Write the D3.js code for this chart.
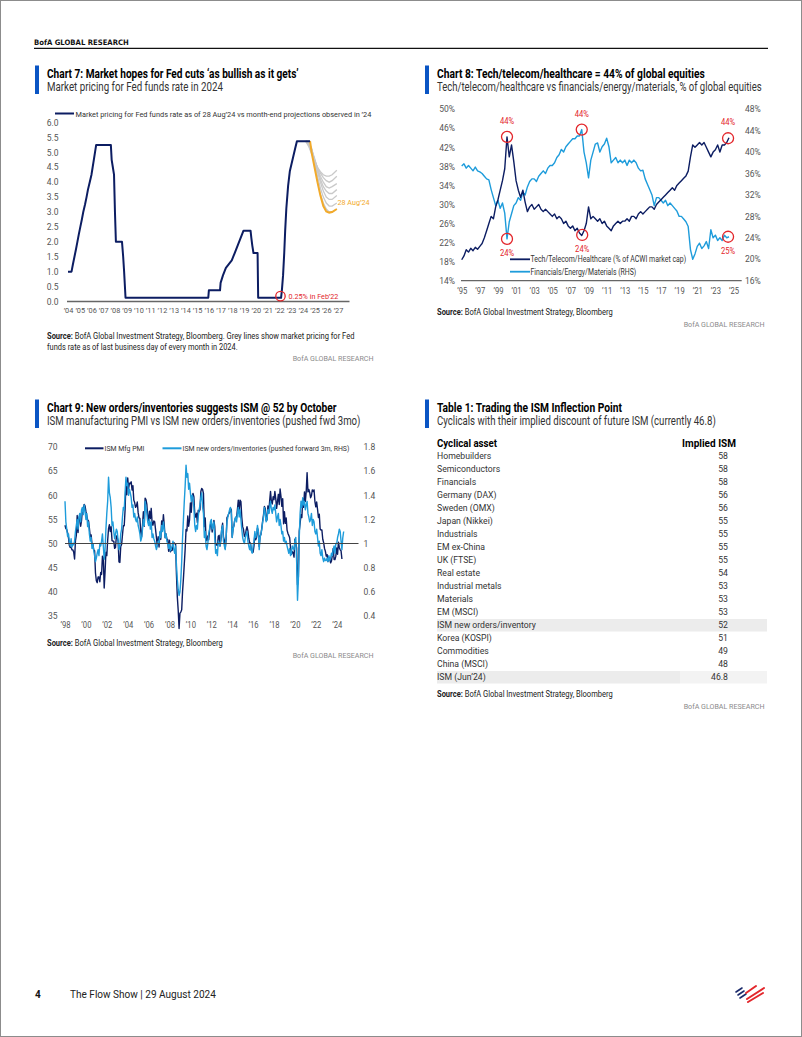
<!DOCTYPE html>
<html><head><meta charset="utf-8">
<script src="https://cdn.jsdelivr.net/npm/d3@7"></script>
<style>
html,body{margin:0;padding:0;background:#fff;}
svg{display:block;}
</style></head><body>
<svg id="page" width="802" height="1037"></svg>
<script>
// ---------------- DATA ----------------
// Chart 7: Fed funds (mid of target range), decimal years
const fedYears = [2004.0,2004.3,2004.42,2004.55,2004.68,2004.8,2004.92,2005.05,2005.18,2005.3,2005.45,2005.58,2005.7,2005.85,2006.0,2006.1,2006.2,2006.3,2006.4,2007.65,2007.72,2007.82,2007.92,2008.0,2008.08,2008.6,2008.7,2008.78,2008.9,2015.95,2016.0,2016.95,2017.0,2017.2,2017.45,2017.95,2018.2,2018.45,2018.7,2018.95,2019.55,2019.62,2019.7,2019.8,2020.15,2020.2,2022.15,2022.22,2022.32,2022.42,2022.5,2022.6,2022.75,2022.9,2023.05,2023.2,2023.35,2023.5,2024.62];
const fedRates = [1.0,1.0,1.25,1.5,1.75,2.0,2.25,2.5,2.75,3.0,3.25,3.5,3.75,4.0,4.25,4.5,4.75,5.0,5.25,5.25,4.75,4.5,4.25,3.0,2.0,2.0,1.5,1.0,0.125,0.125,0.375,0.375,0.625,0.875,1.125,1.375,1.625,1.875,2.125,2.375,2.375,2.125,1.875,1.625,1.625,0.125,0.125,0.375,0.875,1.625,2.375,3.125,3.875,4.375,4.625,4.875,5.125,5.375,5.375];
// Projections (28 Aug'24, orange)
const augYears = [2024.62,2024.75,2025.0,2025.25,2025.5,2025.75,2026.0,2026.25,2026.5,2026.9];
const augRates = [5.375,5.0,4.5,4.0,3.55,3.2,3.02,2.98,3.0,3.1];
// Month-end projections Jan-Jul '24 (grey)
const greyYears = [2024.25,2024.5,2024.75,2025.0,2025.25,2025.5,2025.75,2026.0,2026.25,2026.5,2026.9];
const projJan = [5.375,5.2,4.95,4.7,4.5,4.35,4.25,4.2,4.2,4.25,4.4];
const projFeb = [5.375,5.25,5.0,4.75,4.5,4.3,4.15,4.05,4.0,4.05,4.2];
const projMar = [5.375,5.3,5.05,4.75,4.45,4.2,4.0,3.85,3.8,3.85,3.95];
const projApr = [5.375,5.3,5.1,4.8,4.45,4.1,3.85,3.7,3.62,3.62,3.75];
const projMay = [5.375,5.35,5.1,4.75,4.35,4.0,3.7,3.5,3.42,3.42,3.55];
const projJun = [5.375,5.35,5.15,4.7,4.2,3.8,3.5,3.3,3.2,3.2,3.3];
const projJul = [5.375,5.375,5.1,4.6,4.05,3.6,3.3,3.1,3.0,3.0,3.1];
const yTicks7 = [0,0.5,1,1.5,2,2.5,3,3.5,4,4.5,5,5.5,6];
const xTicks7 = [2004,2005,2006,2007,2008,2009,2010,2011,2012,2013,2014,2015,2016,2017,2018,2019,2020,2021,2022,2023,2024,2025,2026,2027];

// Chart 8: quarterly from 1995.0
const c8Start = 1995.0;
const techShare = [18.4,19.2,20.5,20.0, 20.8,20.3,21.0,20.6, 21.2,21.8,23.0,24.5, 26.0,27.5,27.0,29.5, 31.0,33.0,35.0,37.5,
  44.2,40.0,42.5,39.0, 35.0,33.0,31.5,33.0, 30.5,28.5,29.5,30.0, 29.0,29.5,30.0,29.0, 28.5,29.0,28.5,28.0,
  27.5,28.0,27.0,27.5, 27.0,26.0,26.5,25.5, 25.0,25.5,24.5,25.0, 24.0,23.5,24.5,26.0, 29.5,27.0,27.5,27.0,
  26.5,27.0,26.0,26.5, 25.5,25.0,24.5,25.5, 26.0,26.5,26.0,26.5, 26.5,27.0,26.5,27.5, 27.5,27.0,28.0,28.5,
  28.0,28.5,29.0,29.5, 29.5,29.0,30.0,30.5, 31.0,31.5,32.0,32.5, 33.0,33.5,33.0,34.0, 34.5,35.0,35.5,36.0,
  37.0,40.0,42.5,42.0, 42.5,43.0,42.5,43.0, 42.0,41.0,40.0,41.0, 41.5,42.5,41.0,42.5, 42.5,43.0,44.0];
const finShare = [37.4,37.8,37.0,37.5, 37.0,36.5,37.2,36.5, 36.3,36.0,35.5,35.0, 34.8,33.0,31.5,30.0, 31.0,29.5,30.5,28.6,
  23.8,27.0,28.5,30.0, 30.5,31.5,31.0,32.5, 32.0,33.5,34.5,35.0, 35.0,34.5,35.5,36.0, 36.5,36.0,37.0,37.5,
  37.5,38.0,39.0,39.5, 40.5,40.0,41.0,41.5, 42.0,42.5,42.5,43.0, 43.0,44.2,40.0,38.0, 35.2,38.5,40.0,41.5,
  41.7,40.0,41.0,41.5, 42.6,41.0,38.0,38.5, 39.0,38.0,38.5,38.0, 38.5,37.5,38.5,38.0, 38.5,38.0,37.0,36.5,
  36.6,35.0,34.0,33.0, 32.0,30.0,31.5,31.5, 31.0,30.5,31.0,30.0, 30.5,30.0,29.5,29.0, 28.0,28.0,27.5,27.0,
  26.1,21.8,20.0,21.0, 22.4,23.0,22.0,22.5, 23.3,22.0,25.5,24.0, 24.5,23.5,24.0,23.5, 24.5,24.0,24.2];
const yTicks8L = [14,18,22,26,30,34,38,42,46,50];
const yTicks8R = [16,20,24,28,32,36,40,44,48];
const xTicks8 = [1995,1997,1999,2001,2003,2005,2007,2009,2011,2013,2015,2017,2019,2021,2023,2025];

// Chart 9: monthly from Jan 1998
const pmiStart = 1998.0;
const ismPMI = [
  53.8,53.1,52.9,52.2,51.2,49.6,49.2,49.3,48.7,48.7,48.2,46.8,
  50.6,51.7,55.8,52.3,55.2,55.8,53.6,54.8,57.0,57.2,58.1,57.8,
  56.7,55.8,54.9,54.7,53.2,51.4,51.8,49.9,49.9,48.7,48.5,43.9,
  42.3,41.9,43.1,43.1,42.1,44.0,43.6,47.4,47.0,40.8,44.1,48.2,
  47.5,50.7,53.1,53.9,52.5,53.5,50.6,50.5,50.5,49.0,49.2,51.6,
  51.3,50.5,46.2,46.1,49.4,49.8,51.8,53.7,53.7,57.0,62.8,60.1,
  63.6,61.4,62.5,62.4,62.8,61.1,62.0,59.0,58.5,57.5,57.8,58.6,
  56.4,55.3,55.2,52.3,51.4,53.8,56.6,53.6,59.4,59.1,58.1,55.6,
  54.8,56.7,55.2,57.3,54.4,53.8,54.7,54.5,52.9,51.2,49.5,51.4,
  49.3,52.3,50.9,54.7,53.3,56.0,53.8,51.2,52.0,50.9,50.8,48.4,
  50.7,48.3,48.6,48.6,49.6,50.2,50.0,49.9,43.5,38.9,36.2,32.4,
  35.6,35.8,36.3,40.1,42.8,45.8,48.9,52.9,52.6,55.7,53.6,54.9,
  58.4,56.5,59.6,60.4,59.7,56.2,55.5,56.3,54.4,56.9,56.6,57.0,
  60.8,61.4,61.2,60.4,53.5,55.3,50.9,50.6,51.6,50.8,52.7,53.9,
  54.1,52.4,53.4,54.8,53.5,49.7,49.8,49.6,51.5,51.7,49.5,50.7,
  53.1,54.2,51.3,50.7,49.0,50.9,55.4,55.7,56.2,56.4,57.3,57.0,
  51.3,53.2,53.7,54.9,55.4,55.3,57.1,59.0,56.6,59.0,58.7,55.5,
  53.5,52.9,51.5,51.5,52.8,53.5,52.7,51.1,50.2,50.1,48.6,48.2,
  48.2,49.5,51.8,50.8,51.3,53.2,52.6,49.4,51.5,51.9,53.2,54.7,
  56.0,57.7,57.2,54.8,54.9,57.8,56.3,58.8,60.8,58.7,58.2,59.7,
  59.1,60.8,59.3,57.3,58.7,60.2,58.1,61.3,59.8,57.7,59.3,54.1,
  56.6,54.2,55.3,52.8,52.1,51.7,51.2,49.1,47.8,48.3,48.1,47.2,
  50.9,50.1,49.1,41.5,43.1,52.6,54.2,56.0,55.4,59.3,57.5,60.7,
  58.7,60.8,64.7,60.7,61.2,60.6,59.5,59.9,61.1,60.8,61.1,58.7,
  57.6,58.6,57.1,55.4,56.1,53.0,52.8,52.8,50.9,50.2,49.0,48.4,
  47.4,47.7,46.3,47.1,46.9,46.0,46.4,47.6,49.0,46.7,46.7,47.4,
  49.1,47.8,50.3,49.2,48.7,48.5,46.8];
const noiStart = 1998.0;
const noiRatio = [
  1.35,1.18,1.12,1.06,1.08,1.02,0.98,1.04,0.97,1.00,0.99,1.02,
  1.10,1.15,1.20,1.12,1.22,1.25,1.18,1.28,1.30,1.24,1.32,1.27,
  1.20,1.25,1.14,1.18,1.08,1.02,1.05,0.96,1.00,0.94,0.90,0.85,
  0.88,0.92,0.95,0.90,1.00,0.98,1.02,1.08,0.98,0.87,0.95,1.12,
  1.25,1.35,1.55,1.42,1.38,1.30,1.15,1.18,1.10,1.04,1.08,1.12,
  1.10,1.02,0.95,0.98,1.08,1.12,1.22,1.30,1.28,1.42,1.55,1.48,
  1.50,1.40,1.45,1.42,1.38,1.30,1.32,1.22,1.25,1.20,1.18,1.22,
  1.15,1.12,1.08,1.02,1.05,1.12,1.20,1.15,1.35,1.30,1.25,1.18,
  1.15,1.20,1.12,1.18,1.05,1.08,1.04,1.02,0.98,0.95,0.98,1.02,
  1.00,1.10,1.05,1.15,1.10,1.18,1.12,1.05,1.08,1.02,1.00,0.96,
  1.00,0.94,0.96,0.98,1.02,0.95,0.92,0.98,0.82,0.70,0.62,0.57,
  0.60,0.70,0.85,1.05,1.20,1.35,1.48,1.65,1.55,1.58,1.45,1.50,
  1.42,1.35,1.40,1.38,1.30,1.15,1.10,1.15,1.12,1.22,1.28,1.32,
  1.38,1.42,1.30,1.25,1.05,1.10,0.98,0.95,1.00,1.08,1.12,1.18,
  1.20,1.12,1.15,1.18,1.05,0.92,0.95,0.90,1.02,1.00,0.98,1.05,
  1.12,1.15,1.02,0.98,0.95,1.05,1.18,1.22,1.25,1.28,1.30,1.25,
  1.05,1.12,1.15,1.20,1.22,1.18,1.25,1.30,1.22,1.28,1.20,1.12,
  1.05,1.02,1.00,1.05,1.08,1.10,1.02,0.98,0.95,1.00,0.94,0.92,
  0.98,1.02,1.10,1.05,1.08,1.15,1.10,0.95,1.05,1.08,1.12,1.18,
  1.22,1.30,1.25,1.18,1.20,1.28,1.25,1.30,1.35,1.28,1.25,1.30,
  1.28,1.32,1.25,1.18,1.22,1.25,1.15,1.20,1.15,1.08,1.10,1.02,
  1.05,1.00,1.02,0.98,0.95,0.92,0.96,0.90,0.92,0.98,0.96,0.95,
  1.02,1.05,0.85,0.53,0.70,1.05,1.25,1.35,1.30,1.38,1.32,1.35,
  1.28,1.32,1.35,1.25,1.22,1.18,1.20,1.25,1.15,1.20,1.18,1.10,
  1.08,1.12,1.05,0.98,1.02,0.92,0.90,0.95,0.88,0.85,0.88,0.86,
  0.86,0.88,0.85,0.90,0.86,0.88,0.92,0.90,0.95,0.98,0.92,1.00,
  1.00,1.05,1.08,1.12,1.10,1.02,0.95,1.05,1.10];
const yTicks9L = [35,40,45,50,55,60,65,70];
const yTicks9R = [0.4,0.6,0.8,1.0,1.2,1.4,1.6,1.8];
const xTicks9 = [1998,2000,2002,2004,2006,2008,2010,2012,2014,2016,2018,2020,2022,2024];

// Table 1
const assets = ["Homebuilders","Semiconductors","Financials","Germany (DAX)","Sweden (OMX)","Japan (Nikkei)","Industrials","EM ex-China","UK (FTSE)","Real estate","Industrial metals","Materials","EM (MSCI)","ISM new orders/inventory","Korea (KOSPI)","Commodities","China (MSCI)","ISM (Jun\u201924)"];
const impliedISM = [58,58,58,56,56,55,55,55,55,54,53,53,53,52,51,49,48,46.8];
const shadedRows = [13,17];

// ---------------- RENDER ----------------
const NAVY = "#0c1d62", LBLUE = "#1e9cdb", RED = "#e3262b", ORANGE = "#f2aa2a", GREY = "#c9c9c9", ACCENT = "#0a55c4";
const svg = d3.select("#page");
const FONT = "Roboto, 'Liberation Sans', sans-serif";
svg.attr("font-family", FONT);

// text helper: horizontal compression via transform (emulates the condensed house font)
function T(parent, x, y, str, o={}){
  const t = parent.append("text").text(str)
    .attr("font-size", o.size||8).attr("fill", o.fill||"#222")
    .attr("font-weight", o.weight||400).attr("text-anchor", o.anchor||"start");
  if (o.family) t.attr("font-family", o.family);
  let k = o.k || 1;
  if (o.w) k = o.w / t.node().getComputedTextLength();
  t.attr("transform", `translate(${x},${y}) scale(${k.toFixed(4)},1)`);
  return t;
}
function squeeze(sel, k){ sel.attr("transform", `scale(${k},1)`); }
function titleBlock(x, yTop, title, sub, wT, wS){
  svg.append("rect").attr("x",x).attr("y",yTop).attr("width",4).attr("height",28.5).attr("fill",ACCENT);
  T(svg, x+12, yTop+12.3, title, {size:12, weight:700, fill:"#000", w:wT});
  T(svg, x+12, yTop+25.8, sub, {size:12, fill:"#333", w:wS});
}
function source(x, y, rest, w){
  const t = svg.append("text").attr("font-size",8.5).attr("fill","#222");
  t.append("tspan").attr("font-weight",700).text("Source:");
  t.append("tspan").text(" "+rest);
  const k = w / t.node().getComputedTextLength();
  t.attr("transform", `translate(${x},${y}) scale(${k.toFixed(4)},1)`);
  return t;
}
function bofa(xRight, y){
  T(svg, xRight, y, "BofA GLOBAL RESEARCH", {size:8, fill:"#8a8a8a", anchor:"end", w:81});
}
function yAxis(g, scale, ticks, orient, x, fmt, size){
  const ax = (orient==="left"? d3.axisLeft(scale) : d3.axisRight(scale)).tickValues(ticks).tickSize(0).tickPadding(0).tickFormat(fmt);
  const a = g.append("g").attr("transform",`translate(${x},0)`).call(ax);
  a.select(".domain").remove();
  a.selectAll("text").attr("font-size",size||8.5).attr("fill","#555").attr("font-family",FONT);
  return a;
}
function xAxis(g, scale, ticks, y, fmt, size, k){
  const a = g.append("g").attr("transform",`translate(0,${y})`).call(d3.axisBottom(scale).tickValues(ticks).tickSize(0).tickPadding(0).tickFormat(fmt));
  a.select(".domain").remove();
  a.selectAll("text").attr("font-size",size||8.5).attr("fill","#555").attr("font-family",FONT).attr("dy","0.71em");
  if (k) squeeze(a.selectAll("text"), k);
  return a;
}
const yr = d => "\u2019" + String(d).slice(2);

// Page frame and header
svg.append("rect").attr("x",0.5).attr("y",0.5).attr("width",801).attr("height",1036).attr("fill","none").attr("stroke","#8c8c8c");
T(svg, 34, 44.5, "BofA GLOBAL RESEARCH", {size:7.5, weight:700, fill:"#111", family:"'DejaVu Sans', sans-serif", w:95});
svg.append("line").attr("x1",34).attr("x2",768).attr("y1",48.3).attr("y2",48.3).attr("stroke","#111").attr("stroke-width",1.2);

// ===== Chart 7 =====
titleBlock(35, 65.5, "Chart 7: Market hopes for Fed cuts \u2018as bullish as it gets\u2019", "Market pricing for Fed funds rate in 2024", 252, 176);
{
  const g = svg.append("g");
  const x = d3.scaleLinear().domain([2004,2027]).range([68,338]);
  const y = d3.scaleLinear().domain([0,6]).range([301.5,122.5]);
  yAxis(g, y, yTicks7, "left", 58.5, d3.format(".1f"), 8.5);
  xAxis(g, x, xTicks7, 307, yr, 8, 0.92);
  g.append("line").attr("x1",67).attr("x2",349.5).attr("y1",y(0)).attr("y2",y(0)).attr("stroke","#666").attr("stroke-width",1.3);
  const line = d3.line().x(d=>x(d[0])).y(d=>y(d[1]));
  [projJan,projFeb,projMar,projApr,projMay,projJun,projJul].forEach(p=>{
    g.append("path").attr("d", line(greyYears.map((t,i)=>[t,p[i]]))).attr("fill","none").attr("stroke",GREY).attr("stroke-width",1.3);
  });
  g.append("path").attr("d", line(augYears.map((t,i)=>[t,augRates[i]]))).attr("fill","none").attr("stroke",ORANGE).attr("stroke-width",2);
  g.append("path").attr("d", line(fedYears.map((t,i)=>[t,fedRates[i]]))).attr("fill","none").attr("stroke",NAVY).attr("stroke-width",2).attr("stroke-linejoin","round");
  // legend
  g.append("line").attr("x1",55).attr("x2",74).attr("y1",113.5).attr("y2",113.5).attr("stroke",NAVY).attr("stroke-width",2);
  T(g, 75.5, 116.5, "Market pricing for Fed funds rate as of 28 Aug\u201924 vs month-end projections observed in \u201924", {size:8, fill:"#333", w:296});
  // annotations
  g.append("circle").attr("cx",x(2022.1)).attr("cy",y(0.18)).attr("r",4.7).attr("fill","none").attr("stroke",RED).attr("stroke-width",1.3);
  T(g, 288.5, 298.5, "0.25% in Feb\u201922", {size:8, fill:RED, w:50});
  T(g, 337.5, 205, "28 Aug\u201924", {size:8, fill:ORANGE, w:32});
  source(47, 338.5, "BofA Global Investment Strategy, Bloomberg. Grey lines show market pricing for Fed", 308);
  T(svg, 47, 349.5, "funds rate as of last business day of every month in 2024.", {size:8.5, fill:"#222", w:191});
  bofa(373.5, 361);
}

// ===== Chart 8 =====
titleBlock(425, 65.5, "Chart 8: Tech/telecom/healthcare = 44% of global equities", "Tech/telecom/healthcare vs financials/energy/materials, % of global equities", 268, 325);
{
  const g = svg.append("g");
  const x = d3.scaleLinear().domain([1995,2025]).range([461.7,733.5]);
  const yL = d3.scaleLinear().domain([14,50]).range([280.7,109.2]);
  const yR = d3.scaleLinear().domain([16,48]).range([280.7,109.2]);
  yAxis(g, yL, yTicks8L, "left", 455, d=>d+"%", 8.5);
  yAxis(g, yR, yTicks8R, "right", 745, d=>d+"%", 8.5);
  xAxis(g, x, xTicks8, 287.5, yr, 8.5, 0.9);
  g.append("line").attr("x1",461).attr("x2",741.7).attr("y1",280.7).attr("y2",280.7).attr("stroke","#666").attr("stroke-width",1.2);
  const dates = techShare.map((_,i)=>c8Start+i*0.25);
  g.append("path").attr("d", d3.line().x((d,i)=>x(dates[i])).y(d=>yR(d))(finShare)).attr("fill","none").attr("stroke",LBLUE).attr("stroke-width",1.4).attr("stroke-linejoin","round");
  g.append("path").attr("d", d3.line().x((d,i)=>x(dates[i])).y(d=>yL(d))(techShare)).attr("fill","none").attr("stroke",NAVY).attr("stroke-width",1.4).attr("stroke-linejoin","round");
  // legend
  g.append("line").attr("x1",510).attr("x2",530).attr("y1",259.3).attr("y2",259.3).attr("stroke",NAVY).attr("stroke-width",1.8);
  T(g, 530.5, 262.3, "Tech/Telecom/Healthcare (% of ACWI market cap)", {size:8.5, fill:"#333", w:156});
  g.append("line").attr("x1",510).attr("x2",530).attr("y1",271.7).attr("y2",271.7).attr("stroke",LBLUE).attr("stroke-width",1.8);
  T(g, 530.5, 274.7, "Financials/Energy/Materials (RHS)", {size:8.5, fill:"#333", w:106});
  // annotations
  const ann = [
    {cx:x(2000.0), cy:yL(44.2), lbl:"44%", ly:-13},
    {cx:x(2008.25), cy:yR(44.2), lbl:"44%", ly:-13},
    {cx:x(2024.4), cy:yL(43.9), lbl:"44%", ly:-13},
    {cx:x(2000.0), cy:yR(23.8), lbl:"24%", ly:17},
    {cx:x(2008.3), cy:yL(23.6), lbl:"24%", ly:17},
    {cx:x(2024.4), cy:yR(24.2), lbl:"25%", ly:17}
  ];
  ann.forEach(a=>{
    g.append("circle").attr("cx",a.cx).attr("cy",a.cy).attr("r",5.5).attr("fill","none").attr("stroke",RED).attr("stroke-width",1.3);
    T(g, a.cx, a.cy+a.ly, a.lbl, {size:8.5, fill:RED, anchor:"middle", k:0.9});
  });
  source(437, 314.5, "BofA Global Investment Strategy, Bloomberg", 176);
  bofa(764.5, 326.5);
}

// ===== Chart 9 =====
titleBlock(35, 399.5, "Chart 9: New orders/inventories suggests ISM @ 52 by October", "ISM manufacturing PMI vs ISM new orders/inventories (pushed fwd 3mo)", 290, 314);
{
  const g = svg.append("g");
  const x = d3.scaleLinear().domain([1998,2024]).range([65,336.7]);
  const yL = d3.scaleLinear().domain([35,70]).range([616,447]);
  const yR = d3.scaleLinear().domain([0.4,1.8]).range([616,447]);
  yAxis(g, yL, yTicks9L, "left", 57.5, d3.format("d"), 8.5);
  yAxis(g, yR, yTicks9R, "right", 363.5, d=> d===1 ? "1" : d.toFixed(1), 8.5);
  xAxis(g, x, xTicks9, 622, yr, 8.5, 0.9);
  g.append("path").attr("d", d3.line().x((d,i)=>x(pmiStart+i/12)).y(d=>yL(d))(ismPMI)).attr("fill","none").attr("stroke",NAVY).attr("stroke-width",1.4).attr("stroke-linejoin","round");
  g.append("path").attr("d", d3.line().x((d,i)=>x(noiStart+i/12)).y(d=>yR(d))(noiRatio)).attr("fill","none").attr("stroke",LBLUE).attr("stroke-width",1.4).attr("stroke-linejoin","round");
  g.append("line").attr("x1",65).attr("x2",358.5).attr("y1",yL(50)).attr("y2",yL(50)).attr("stroke","#444").attr("stroke-width",1.1);
  // legend
  g.append("line").attr("x1",85).attr("x2",103.5).attr("y1",448.3).attr("y2",448.3).attr("stroke",NAVY).attr("stroke-width",2);
  T(g, 104.5, 451, "ISM Mfg PMI", {size:8, fill:"#333", w:40});
  g.append("line").attr("x1",162.5).attr("x2",181.5).attr("y1",448.3).attr("y2",448.3).attr("stroke",LBLUE).attr("stroke-width",2);
  T(g, 182.5, 451, "ISM new orders/inventories (pushed forward 3m, RHS)", {size:8, fill:"#333", w:167});
  source(47, 645.5, "BofA Global Investment Strategy, Bloomberg", 176);
  bofa(373.5, 657.5);
}

// ===== Table 1 =====
titleBlock(425, 399.5, "Table 1: Trading the ISM Inflection Point", "Cyclicals with their implied discount of future ISM (currently 46.8)", 185, 279);
{
  const g = svg.append("g");
  const rowY = d3.scaleLinear().domain([0,1]).range([459.3,472.3]);
  shadedRows.forEach(i=>{
    const yTop = rowY(i)-9.3;
    g.append("rect").attr("x",437).attr("y",yTop).attr("width",243).attr("height",12.5).attr("fill","#ececec");
    g.append("rect").attr("x",680).attr("y",yTop).attr("width",87).attr("height",12.5).attr("fill", i===17?"#f3f3f3":"#ececec");
  });
  T(g, 437, 447, "Cyclical asset", {size:10.5, weight:700, fill:"#000", w:60});
  T(g, 736, 447, "Implied ISM", {size:10.5, weight:700, fill:"#000", anchor:"end", w:54});
  const probe = g.append("text").attr("font-size",9.5).text("ISM new orders/inventory");
  const kRow = 99 / probe.node().getComputedTextLength(); probe.remove();
  assets.forEach((a,i)=>{
    T(g, 437, rowY(i), a, {size:9.5, fill:"#333", k:kRow});
    T(g, 728, rowY(i), String(impliedISM[i]), {size:9.5, fill:"#333", anchor:"end", k:kRow});
  });
  source(437, 697, "BofA Global Investment Strategy, Bloomberg", 176);
  bofa(764.5, 708.5);
}

// ===== Footer =====
T(svg, 35, 998, "4", {size:10, weight:700, fill:"#111"});
T(svg, 70, 998, "The Flow Show | 29 August 2024", {size:10, fill:"#222", w:146});
{
  const g = svg.append("g").attr("transform","translate(735,984)");
  const navyStripes = [[1,8,7,4],[3,11,9,7],[5,14,11,10]];
  const redStripes = [[11,9,21,2],[12,15,29,4],[13,18,28,9]];
  navyStripes.forEach(s=>g.append("line").attr("x1",s[0]).attr("y1",s[1]).attr("x2",s[2]).attr("y2",s[3]).attr("stroke","#1b2a6b").attr("stroke-width",1.6).attr("stroke-linecap","round"));
  redStripes.forEach(s=>g.append("line").attr("x1",s[0]).attr("y1",s[1]).attr("x2",s[2]).attr("y2",s[3]).attr("stroke","#e3262b").attr("stroke-width",2).attr("stroke-linecap","round"));
}
</script>
</body></html>
